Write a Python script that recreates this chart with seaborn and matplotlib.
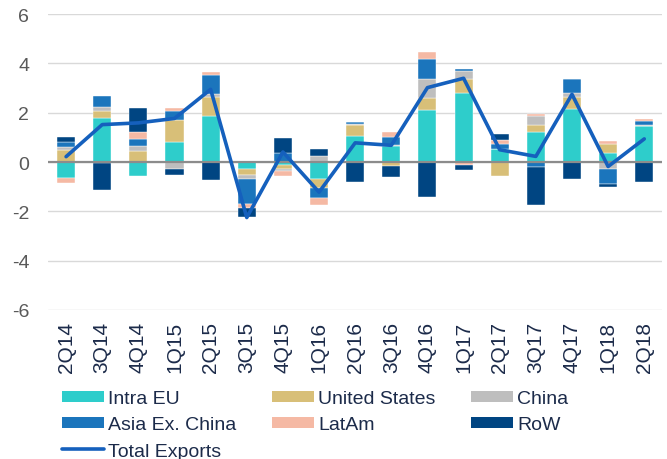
import numpy as np
import matplotlib
matplotlib.use("Agg")
import matplotlib.pyplot as plt
import seaborn as sns
from matplotlib.patches import Patch
from matplotlib.lines import Line2D

quarters = ["2Q14", "3Q14", "4Q14", "1Q15", "2Q15", "3Q15", "4Q15", "1Q16", "2Q16",
            "3Q16", "4Q16", "1Q17", "2Q17", "3Q17", "4Q17", "1Q18", "2Q18"]

intra_eu = [-0.63, 1.78, -0.58, 0.80, 1.85, -0.27, -0.10, -0.68, 1.05,
            0.64, 2.10, 2.80, 0.53, 1.20, 2.16, 0.35, 1.48]
united_states = [0.50, 0.29, 0.46, 0.90, 0.79, -0.24, -0.18, -0.38, 0.44,
                 -0.14, 0.50, 0.58, -0.58, 0.29, 0.49, 0.38, 0.00]
china = [0.10, 0.16, 0.18, -0.27, 0.11, -0.18, -0.10, 0.23, 0.07,
         0.07, 0.75, 0.31, 0.00, 0.38, 0.14, -0.27, 0.04]
asia_ex_china = [0.20, 0.46, 0.31, 0.39, 0.79, -1.00, 0.35, -0.41, 0.05,
                 0.30, 0.83, 0.07, 0.22, -0.22, 0.60, -0.61, 0.16]
latam = [-0.22, -0.05, 0.26, 0.12, 0.11, -0.16, -0.18, -0.27, 0.00,
         0.22, 0.27, -0.10, 0.15, 0.10, 0.00, 0.11, 0.07]
row = [0.22, -1.07, 0.97, -0.24, -0.73, -0.38, 0.64, 0.30, -0.79,
       -0.45, -1.43, -0.22, 0.22, -1.54, -0.69, -0.12, -0.80]
total_exports = [0.22, 1.52, 1.59, 1.77, 2.95, -2.25, 0.41, -1.22, 0.78,
                 0.68, 3.02, 3.40, 0.50, 0.23, 2.75, -0.18, 0.94]

series = [("Intra EU", intra_eu, "#2ECDCB"),
          ("United States", united_states, "#D8BF78"),
          ("China", china, "#BEBEBE"),
          ("Asia Ex. China", asia_ex_china, "#1B75BC"),
          ("LatAm", latam, "#F5B9A4"),
          ("RoW", row, "#004582")]
line_color = "#1560BD"
grey_text = "#595959"
navy_text = "#1C2B4A"

sns.set_style("white")
plt.rcParams["font.family"] = ["Liberation Sans", "DejaVu Sans"]
plt.rcParams["axes.unicode_minus"] = False

fig, ax = plt.subplots(figsize=(6.67, 4.6), dpi=100)
fig.subplots_adjust(left=0.072, right=0.993, top=0.967, bottom=0.324)

x = np.arange(len(quarters))
pos_base = np.zeros(len(quarters))
neg_base = np.zeros(len(quarters))
for name, vals, col in series:
    v = np.array(vals)
    bottom = np.where(v >= 0, pos_base, neg_base)
    sns.barplot(x=x, y=v, bottom=bottom, color=col, saturation=1, width=0.5, ax=ax,
                native_scale=True, edgecolor="white", linewidth=0.3, zorder=2)
    pos_base = pos_base + np.where(v >= 0, v, 0)
    neg_base = neg_base + np.where(v < 0, v, 0)

sns.lineplot(x=x, y=total_exports, color=line_color, linewidth=2.6, ax=ax,
             zorder=4, sort=False)

ax.set_xlim(-0.5, len(quarters) - 0.5)
ax.set_ylim(-6, 6)
ax.set_yticks(np.arange(-6, 7, 2))
ax.yaxis.grid(True, color="#D9D9D9", linewidth=1.0, zorder=0)
ax.set_axisbelow(True)
for s in ax.spines.values():
    s.set_visible(False)
ax.axhline(0, color="#8C8C8C", linewidth=1.6, zorder=3)

ax.set_xticks(x)
ax.set_xticklabels(quarters, rotation=90, fontsize=15, color=navy_text)
ax.set_xticks(np.arange(-0.5, len(quarters), 1), minor=True)
ax.tick_params(axis="x", which="major", length=0, pad=8)
ax.tick_params(axis="x", which="minor", length=5, width=1.6, color="#8C8C8C",
               direction="out")
ax.tick_params(axis="y", length=4, color="#D9D9D9", labelsize=14,
               labelcolor=grey_text, pad=9.5)
ax.set_xlabel("")
ax.set_ylabel("")

handles = {name: Patch(facecolor=col, edgecolor="none") for name, vals, col in series}
handles["Total Exports"] = Line2D([0], [0], color=line_color, linewidth=2.6)
order = ["Intra EU", "Asia Ex. China", "Total Exports", "United States", "LatAm",
         "China", "RoW"]
fig.legend([handles[k] for k in order], order, ncol=3, loc="upper left",
           bbox_to_anchor=(0.093, 0.15), borderaxespad=0, borderpad=0,
           frameon=False, fontsize=14,
           handlelength=2.16, handleheight=0.5, handletextpad=0.2,
           columnspacing=1.85, labelspacing=0.48, labelcolor=navy_text)

fig.savefig("out.png", dpi=100)
